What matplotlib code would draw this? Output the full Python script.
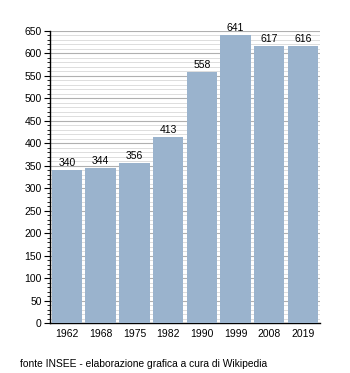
import matplotlib
matplotlib.use('Agg')
from matplotlib import pyplot as plt
from matplotlib.ticker import MultipleLocator

plt.rcParams['font.family'] = ['Liberation Sans', 'DejaVu Sans']

years = ['1962', '1968', '1975', '1982', '1990', '1999', '2008', '2019']
pop = [340, 344, 356, 413, 558, 641, 617, 616]

fig = plt.figure(figsize=[3.5, 3.73], dpi=100)
ax = fig.add_axes([0.143, 0.134, 0.771, 0.783])

x = range(len(years))
ax.bar(x, pop, width=0.9, color='#9ab3cd', zorder=3)
for i, v in zip(x, pop):
    ax.text(i, v + 5, str(v), ha='center', va='bottom', fontsize=7.5, zorder=4)

ax.set_xlim(-0.5, len(years) - 0.5)
ax.set_ylim(0, 650)
ax.yaxis.set_major_locator(MultipleLocator(50))
ax.yaxis.set_minor_locator(MultipleLocator(10))
ax.grid(axis='y', which='major', color='#b0b0b0', linewidth=0.8, zorder=0)
ax.grid(axis='y', which='minor', color='#d8d8d8', linewidth=0.6, zorder=0)
ax.set_xticks(list(x))
ax.set_xticklabels(years)
ax.tick_params(axis='x', length=0, labelsize=7.5, pad=4)
ax.tick_params(axis='y', which='major', length=4, labelsize=7.5, pad=2)
ax.tick_params(axis='y', which='minor', length=2)
for s in ['top', 'right']:
    ax.spines[s].set_visible(False)
ax.spines['left'].set_linewidth(1)
ax.spines['bottom'].set_linewidth(1)

fig.text(0.057, 0.016, 'fonte INSEE - elaborazione grafica a cura di Wikipedia', fontsize=7.4)
fig.savefig('out.png', dpi=100)
